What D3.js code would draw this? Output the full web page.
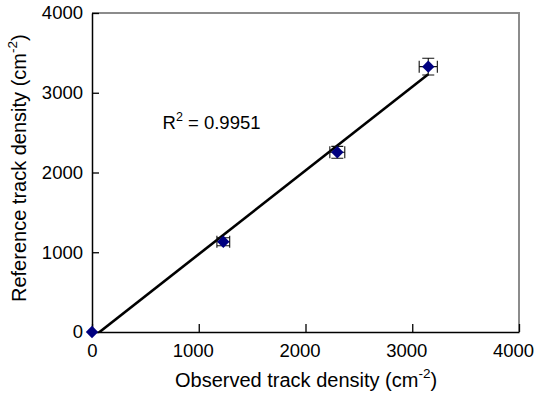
<!DOCTYPE html>
<html>
<head>
<meta charset="utf-8">
<script src="https://cdn.jsdelivr.net/npm/d3@7"></script>
<style>
  html, body { margin: 0; padding: 0; background: #fff; }
  svg { display: block; font-family: "Liberation Sans", Arial, sans-serif; }
</style>
</head>
<body>
<svg id="chart" width="536" height="397"></svg>
<script>
// ---- data ----
const observed = [0, 1230, 2298, 3150];
const reference = [0, 1132, 2253, 3327];
const observedErr = [0, 60, 70, 85];
const referenceErr = [0, 50, 75, 105];
const xTicks = [0, 1000, 2000, 3000, 4000];
const yTicks = [0, 1000, 2000, 3000, 4000];
const r2Text = "0.9951";
const xTitle = "Observed track density (cm";
const yTitle = "Reference track density (cm";
const supText = "-2";

const points = observed.map((x, i) => ({x, y: reference[i], ex: observedErr[i], ey: referenceErr[i]}));

const svg = d3.select("#chart");
const L = 92, R = 519, T = 13, B = 332;
const x = d3.scaleLinear().domain([0, 4000]).range([L, R]);
const y = d3.scaleLinear().domain([0, 4000]).range([B, T]);

// clip
svg.append("defs").append("clipPath").attr("id", "plotclip")
  .append("rect").attr("x", L).attr("y", T).attr("width", R - L).attr("height", B - T);

// top/right frame (gray)
svg.append("path")
  .attr("d", `M${L},${T}H${R}V${B}`)
  .attr("fill", "none").attr("stroke", "#8c8c8c").attr("stroke-width", 2);

// axes
const xAxis = d3.axisBottom(x).tickValues(xTicks).tickFormat(d3.format("d"))
  .tickSizeInner(-8).tickSizeOuter(0).tickPadding(11.5);
const yAxis = d3.axisLeft(y).tickValues(yTicks).tickFormat(d3.format("d"))
  .tickSizeInner(-7).tickSizeOuter(0).tickPadding(9);

const gx = svg.append("g").attr("transform", `translate(0,${B})`).call(xAxis);
const gy = svg.append("g").attr("transform", `translate(${L},0)`).call(yAxis);
[gx, gy].forEach(g => {
  g.selectAll("path.domain").attr("stroke", "#000").attr("stroke-width", 1.5);
  g.selectAll(".tick line").attr("stroke", "#000").attr("stroke-width", 1.3);
  g.selectAll("text").attr("font-size", 18.5).attr("fill", "#000")
    .attr("font-family", "'Liberation Sans', Arial, sans-serif");
});
gx.selectAll(".tick text").attr("dx", d => d === 0 ? 0 : -6);

// regression trendline (least squares from the data)
const mx = d3.mean(observed), my = d3.mean(reference);
const sxy = d3.sum(observed, (v, i) => (v - mx) * (reference[i] - my));
const sxx = d3.sum(observed, v => (v - mx) * (v - mx));
const slope = sxy / sxx, intercept = my - slope * mx;
const x0 = 0, x1 = d3.max(observed);
svg.append("line")
  .attr("clip-path", "url(#plotclip)")
  .attr("x1", x(x0)).attr("y1", y(intercept + slope * x0))
  .attr("x2", x(x1)).attr("y2", y(intercept + slope * x1))
  .attr("stroke", "#000").attr("stroke-width", 2.6);

// error bars
const cap = 6;
const eb = svg.append("g").attr("stroke", "#111").attr("stroke-width", 1.1).attr("fill", "none");
points.filter(p => p.ex > 0 || p.ey > 0).forEach(p => {
  const cx = x(p.x), cy = y(p.y);
  const xl = x(p.x - p.ex), xr = x(p.x + p.ex);
  const yt = y(p.y + p.ey), yb = y(p.y - p.ey);
  eb.append("path").attr("d",
    `M${xl},${cy}H${xr}M${xl},${cy - cap}V${cy + cap}M${xr},${cy - cap}V${cy + cap}` +
    `M${cx},${yt}V${yb}M${cx - cap},${yt}H${cx + cap}M${cx - cap},${yb}H${cx + cap}`);
});

// diamonds
const dsz = 6.2;
svg.append("g").selectAll("path").data(points).join("path")
  .attr("d", p => {
    const cx = x(p.x), cy = y(p.y);
    return `M${cx},${cy - dsz}L${cx + dsz},${cy}L${cx},${cy + dsz}L${cx - dsz},${cy}Z`;
  })
  .attr("fill", "#000080");

// R^2 label
const r2 = svg.append("text").attr("x", 162.5).attr("y", 129.3)
  .attr("font-size", 18.5).attr("fill", "#000");
r2.append("tspan").text("R");
r2.append("tspan").attr("font-size", 12.5).attr("dy", -8).text("2");
r2.append("tspan").attr("dy", 8).text(" = " + r2Text);

// axis titles
const xt = svg.append("text").attr("x", 175).attr("y", 387)
  .attr("font-size", 20).attr("fill", "#000");
xt.append("tspan").text(xTitle);
xt.append("tspan").attr("font-size", 13.5).attr("dy", -9).text(supText);
xt.append("tspan").attr("dy", 9).text(")");

const yt = svg.append("text").attr("transform", "translate(26,302) rotate(-90)")
  .attr("font-size", 20).attr("fill", "#000");
yt.append("tspan").text(yTitle);
yt.append("tspan").attr("font-size", 13.5).attr("dy", -9).text(supText);
yt.append("tspan").attr("dy", 9).text(")");
</script>
</body>
</html>
